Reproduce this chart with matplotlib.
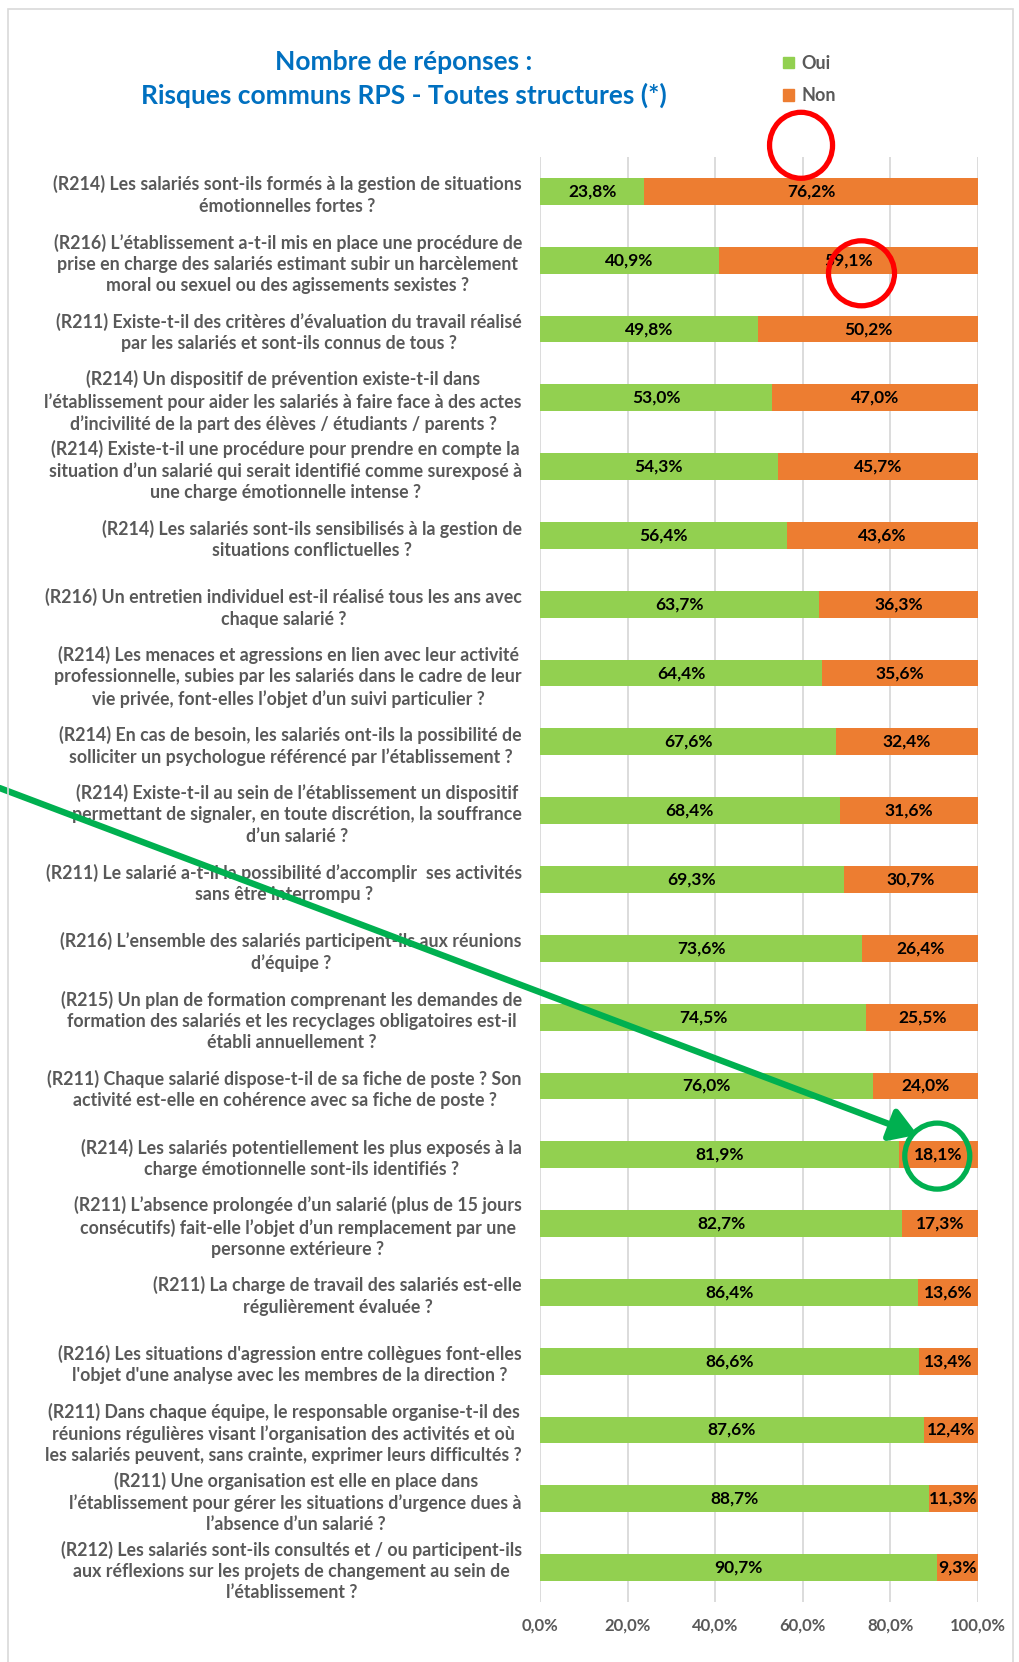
import numpy as np
import matplotlib.pyplot as plt
from matplotlib.patches import Ellipse, Rectangle, Patch

plt.rcParams['font.family'] = ['Lato', 'DejaVu Sans']

questions = [
    "(R214) Les salariés sont-ils formés à la gestion de situations\némotionnelles fortes ?",
    "(R216) L’établissement a-t-il mis en place une procédure de\nprise en charge des salariés estimant subir un harcèlement\nmoral ou sexuel ou des agissements sexistes ?",
    "(R211) Existe-t-il des critères d’évaluation du travail réalisé\npar les salariés et sont-ils connus de tous ?",
    "(R214) Un dispositif de prévention existe-t-il dans\nl’établissement pour aider les salariés à faire face à des actes\nd’incivilité de la part des élèves / étudiants / parents ?",
    "(R214) Existe-t-il une procédure pour prendre en compte la\nsituation d’un salarié qui serait identifié comme surexposé à\nune charge émotionnelle intense ?",
    "(R214) Les salariés sont-ils sensibilisés à la gestion de\nsituations conflictuelles ?",
    "(R216) Un entretien individuel est-il réalisé tous les ans avec\nchaque salarié ?",
    "(R214) Les menaces et agressions en lien avec leur activité\nprofessionnelle, subies par les salariés dans le cadre de leur\nvie privée, font-elles l’objet d’un suivi particulier ?",
    "(R214) En cas de besoin, les salariés ont-ils la possibilité de\nsolliciter un psychologue référencé par l’établissement ?",
    "(R214) Existe-t-il au sein de l’établissement un dispositif\npermettant de signaler, en toute discrétion, la souffrance\nd’un salarié ?",
    "(R211) Le salarié a-t-il la possibilité d’accomplir  ses activités\nsans être interrompu ?",
    "(R216) L’ensemble des salariés participent-ils aux réunions\nd’équipe ?",
    "(R215) Un plan de formation comprenant les demandes de\nformation des salariés et les recyclages obligatoires est-il\nétabli annuellement ?",
    "(R211) Chaque salarié dispose-t-il de sa fiche de poste ? Son\nactivité est-elle en cohérence avec sa fiche de poste ?",
    "(R214) Les salariés potentiellement les plus exposés à la\ncharge émotionnelle sont-ils identifiés ?",
    "(R211) L’absence prolongée d’un salarié (plus de 15 jours\nconsécutifs) fait-elle l’objet d’un remplacement par une\npersonne extérieure ?",
    "(R211) La charge de travail des salariés est-elle\nrégulièrement évaluée ?",
    "(R216) Les situations d'agression entre collègues font-elles\nl'objet d'une analyse avec les membres de la direction ?",
    "(R211) Dans chaque équipe, le responsable organise-t-il des\nréunions régulières visant l’organisation des activités et où\nles salariés peuvent, sans crainte, exprimer leurs difficultés ?",
    "(R211) Une organisation est elle en place dans\nl’établissement pour gérer les situations d’urgence dues à\nl’absence d’un salarié ?",
    "(R212) Les salariés sont-ils consultés et / ou participent-ils\naux réflexions sur les projets de changement au sein de\nl’établissement ?",
]

oui = [23.8, 40.9, 49.8, 53.0, 54.3, 56.4, 63.7, 64.4, 67.6, 68.4, 69.3,
       73.6, 74.5, 76.0, 81.9, 82.7, 86.4, 86.6, 87.6, 88.7, 90.7]
non = [76.2, 59.1, 50.2, 47.0, 45.7, 43.6, 36.3, 35.6, 32.4, 31.6, 30.7,
       26.4, 25.5, 24.0, 18.1, 17.3, 13.6, 13.4, 12.4, 11.3, 9.3]

x_ticks = [0, 20, 40, 60, 80, 100]
series_names = ['Oui', 'Non']

GREEN = '#92D050'
ORANGE = '#ED7D31'
GREY_TEXT = '#595959'
GRID = '#D9D9D9'
BLUE = '#0070C0'


def pct(v):
    return f"{v:.1f}%".replace('.', ',')


W, H = 1020, 1662
fig = plt.figure(figsize=(W / 100, H / 100), dpi=100)
ax = fig.add_axes([540 / W, 1 - 1602 / H, 438 / W, 1445 / H])

y = np.arange(len(questions))
ax.barh(y, oui, height=0.39, color=GREEN, zorder=2)
ax.barh(y, non, left=oui, height=0.39, color=ORANGE, zorder=2)

for yi, o, n in zip(y, oui, non):
    ax.text(o / 2, yi, pct(o), ha='center', va='center', fontsize=12.5,
            fontweight='bold', color='black', zorder=3)
    ax.text(o + n / 2, yi, pct(n), ha='center', va='center', fontsize=12.5,
            fontweight='bold', color='black', zorder=3)

ax.set_xlim(0, 100)
ax.set_ylim(len(questions) - 0.5, -0.5)
ax.set_xticks(x_ticks)
ax.set_xticklabels([pct(t) for t in x_ticks], fontsize=12,
                   fontweight='bold', color=GREY_TEXT)
ax.set_yticks(y)
ax.set_yticklabels(questions, fontsize=12.8, fontweight='bold',
                   color=GREY_TEXT, ha='right', multialignment='center',
                   linespacing=1.3)
ax.tick_params(axis='y', length=0, pad=13)
ax.tick_params(axis='x', length=0, pad=11)
ax.grid(axis='x', color=GRID, lw=1.3, zorder=0)
ax.set_axisbelow(True)
for s in ax.spines.values():
    s.set_visible(False)

# title
fig.text(404 / W, 1 - 62 / H, 'Nombre de réponses :', ha='center', va='center',
         fontsize=19, fontweight='bold', color=BLUE)
fig.text(404 / W, 1 - 95 / H, 'Risques communs RPS - Toutes structures (*)',
         ha='center', va='center', fontsize=19, fontweight='bold', color=BLUE)

# legend
handles = [Patch(color=GREEN), Patch(color=ORANGE)]
fig.legend(handles, series_names, loc='upper left',
           bbox_to_anchor=(783 / W, 1 - 55 / H), frameon=False,
           handlelength=0.6, handleheight=0.6, handletextpad=0.4,
           labelspacing=0.85, borderpad=0, borderaxespad=0,
           prop={'size': 13, 'weight': 'bold'}, labelcolor=GREY_TEXT)

# highlight circles and arrow
px_x = 438 / 100
px_y = 1445 / len(questions)
for cx, cy, w, h, col in [(59.6, -0.67, 63, 66, '#FF0000'),
                          (73.4, 1.19, 66, 65, '#FF0000'),
                          (90.7, 14.02, 65, 66, '#00B050')]:
    ax.add_patch(Ellipse((cx, cy), w / px_x, h / px_y, fill=False,
                         ec=col, lw=3.8, zorder=6, clip_on=False))

ax.annotate('', xy=(86.2, 13.71), xytext=(-123.4, 8.67),
            arrowprops=dict(arrowstyle='-|>,head_length=0.8,head_width=0.5',
                            lw=4.6, color='#00B050', mutation_scale=20,
                            shrinkA=0, shrinkB=0),
            annotation_clip=False, zorder=7)

# outer frame
fig.patches.append(Rectangle((8 / W, -0.01), (1013 - 8) / W, 1.01 - 9 / H,
                             transform=fig.transFigure, fill=False,
                             ec=GRID, lw=1.2))

fig.savefig('out.png', dpi=100)
